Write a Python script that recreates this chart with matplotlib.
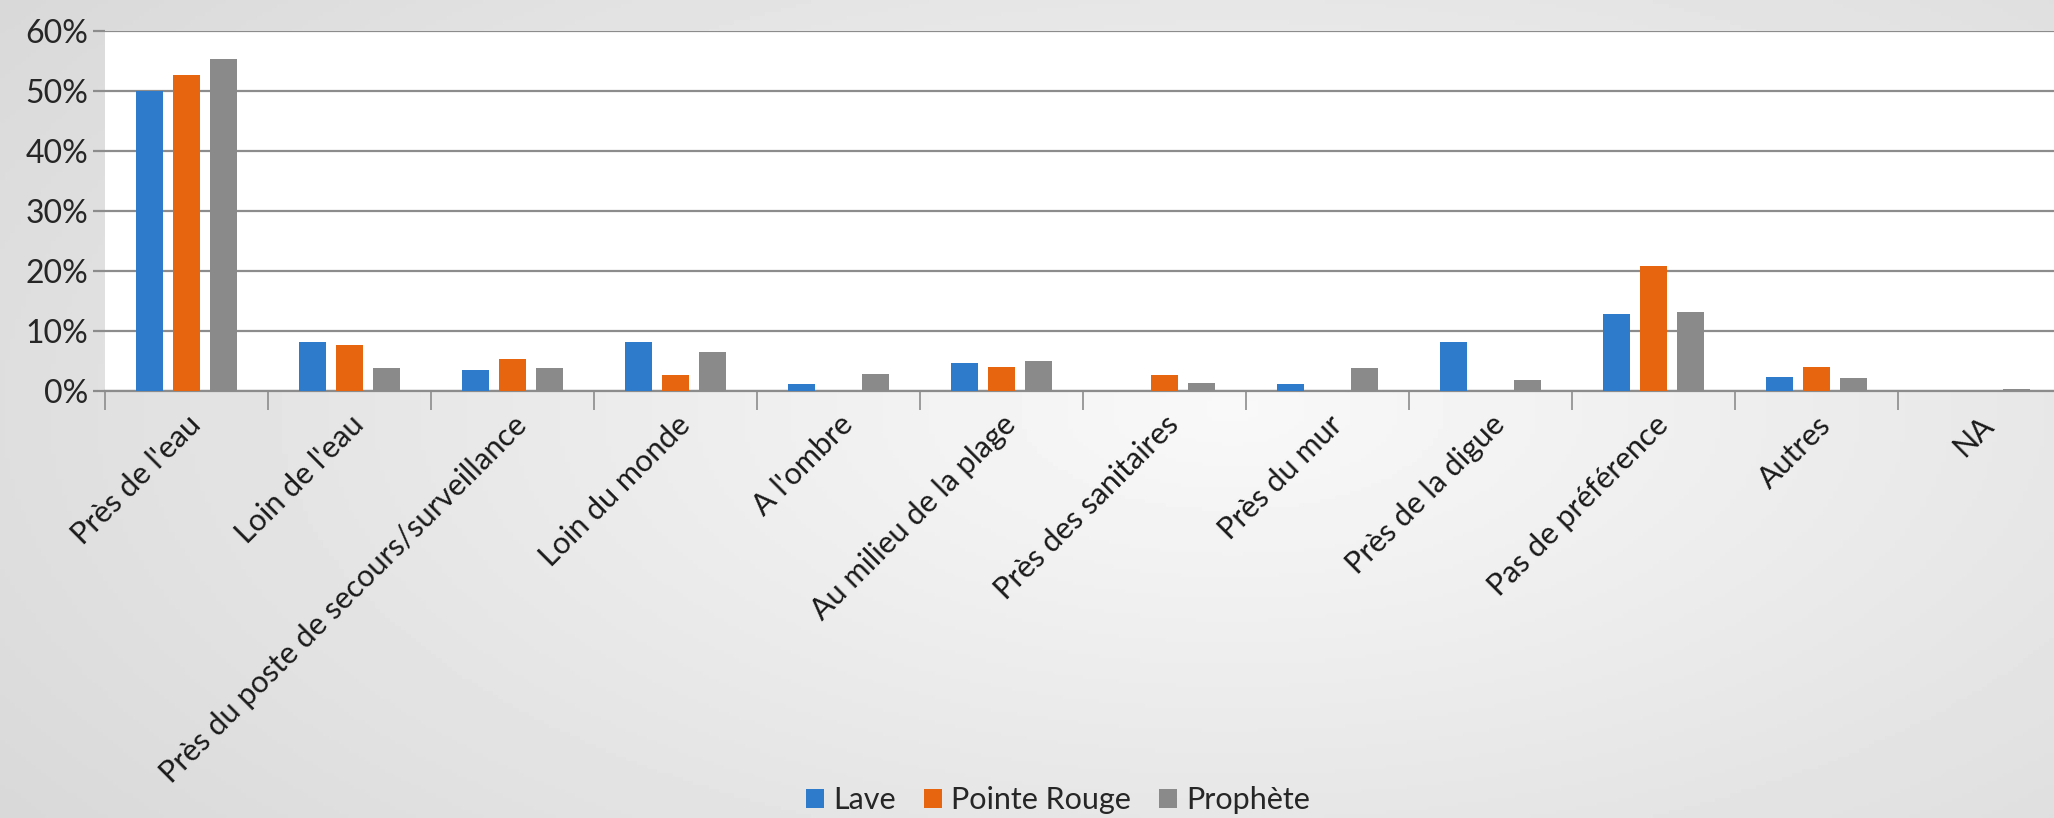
import numpy as np
import matplotlib
matplotlib.use("Agg")
import matplotlib.pyplot as plt
from matplotlib.ticker import FuncFormatter

categories = ["Près de l'eau", "Loin de l'eau", "Près du poste de secours/surveillance",
              "Loin du monde", "A l'ombre", "Au milieu de la plage", "Près des sanitaires",
              "Près du mur", "Près de la digue", "Pas de préférence", "Autres", "NA"]
lave = [50.0, 8.1, 3.5, 8.1, 1.1, 4.6, 0.0, 1.1, 8.1, 12.8, 2.3, 0.0]
pointe_rouge = [52.6, 7.7, 5.3, 2.6, 0.0, 4.0, 2.6, 0.0, 0.0, 20.9, 4.0, 0.0]
prophete = [55.3, 3.8, 3.8, 6.5, 2.8, 5.0, 1.4, 3.8, 1.8, 13.1, 2.2, 0.4]
series_names = ["Lave", "Pointe Rouge", "Prophète"]
colors = ["#2E7BCB", "#E8650F", "#8A8A8A"]
yticks = [0, 10, 20, 30, 40, 50, 60]

plt.rcParams['font.family'] = ['Lato', 'DejaVu Sans']

W, H = 2054, 818
fig = plt.figure(figsize=(W / 100, H / 100), dpi=100)

# background gradient
bg = fig.add_axes([0, 0, 1, 1], zorder=-10)
yy, xx = np.mgrid[0:1:200j, 0:1:400j]
r = np.sqrt(((xx - 0.6) / 0.75) ** 2 + ((yy - 0.5) / 0.9) ** 2)
img = 0.975 - 0.13 * np.clip(r, 0, 1.2)
bg.imshow(img, cmap='gray', vmin=0, vmax=1, aspect='auto', extent=[0, 1, 0, 1])
bg.axis('off')

left = 105 / W
bottom = 1 - 391 / H
width = (2061 - 105) / W
height = (391 - 31) / H
ax = fig.add_axes([left, bottom, width, height])
ax.set_facecolor('white')

x = np.arange(len(categories))
bw = 0.165
offs = [-0.225, 0.0, 0.225]
for vals, name, c, o in zip([lave, pointe_rouge, prophete], series_names, colors, offs):
    ax.bar(x + o, vals, width=bw, color=c, label=name, zorder=3)

ax.set_xlim(-0.5, len(categories) - 0.5)
ax.set_ylim(0, 60)
ax.set_yticks(yticks)
ax.yaxis.set_major_formatter(FuncFormatter(lambda v, p: f"{int(v)}%"))
ax.grid(axis='y', color='#8c8c8c', linewidth=1.6, zorder=1)
ax.set_axisbelow(True)
for s in ['left', 'right', 'top']:
    ax.spines[s].set_visible(False)
ax.spines['bottom'].set_color('#8c8c8c')
ax.spines['bottom'].set_linewidth(1.6)
ax.tick_params(axis='y', length=9, width=1.6, color='#8c8c8c', labelsize=23, labelcolor='#262626', pad=3)

ax.set_xticks(np.arange(len(categories) + 1) - 0.5, minor=False)
ax.set_xticklabels([])
ax.tick_params(axis='x', which='major', length=14, width=1.2, color='#8c8c8c')
ax.set_xticks(x, minor=True)
ax.set_xticklabels(categories, minor=True, rotation=45, ha='right', va='top',
                   rotation_mode='anchor', fontsize=22, color='#1a1a1a')
ax.tick_params(axis='x', which='minor', length=0, pad=14)

leg = fig.legend(loc='center', bbox_to_anchor=(1058 / W, 1 - 800 / H), ncol=3, frameon=False,
                 fontsize=22, handlelength=0.6, handleheight=0.6, handletextpad=0.3,
                 columnspacing=0.9, labelcolor='#262626')

fig.savefig('out.png', dpi=100)
